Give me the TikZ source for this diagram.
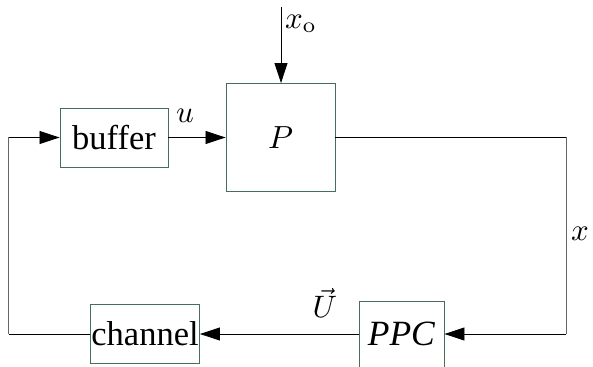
\documentclass[tikz,border=0pt]{standalone}
\usepackage{graphicx}
\usepackage[no-math]{fontspec}
\setmainfont{Liberation Serif}
\usetikzlibrary{arrows.meta}
\definecolor{boxgreen}{RGB}{70,110,90}
\newcommand{\bigtxt}[1]{\scalebox{3.45}{#1}}
\newcommand{\mathtxt}[1]{\scalebox{3.2}{#1}}
\newcommand{\ppctxt}[1]{\scalebox{3.55}{#1}}
\newcommand{\lbltxt}[1]{\scalebox{3.1}{#1}}
\tikzset{
  blk/.style={draw=boxgreen, line width=0.9pt, minimum width=#1, inner sep=0pt},
  conn/.style={line width=0.8pt, draw=black},
  vline/.style={line width=0.8pt, draw=black!60},
  tip/.style={-{Triangle[length=20pt,width=13pt]}},
  lbl/.style={inner sep=0pt}
}
\begin{document}
\begin{tikzpicture}[x=1pt,y=-1pt]
\useasboundingbox (0,0) rectangle (593,366);
\node[blk=108pt, minimum height=59pt] (buf) at (114,137.5) {\bigtxt{buffer}};
\node[blk=109pt, minimum height=108pt] (P) at (280.5,137.5) {\mathtxt{$P$}};
\node[blk=109pt, minimum height=59pt] (ch) at (145,334) {\bigtxt{channel}};
\node[blk=85pt, minimum height=66pt] (ppc) at (401.5,334) {\ppctxt{\textit{PPC}}};
\coordinate (top) at (281,7);
\coordinate (r1) at (566.4,137.5);
\coordinate (r2) at (566.4,334);
\coordinate (l1) at (8.7,334);
\coordinate (l2) at (8.7,137.5);
\draw[conn,tip] (top) -- (P.north -| top);
\draw[conn,tip] (buf.east) -- (P.west);
\draw[conn] (P.east) -- (r1);
\draw[vline] (r1) -- (r2);
\draw[conn,tip] (r2) -- (ppc.east);
\draw[conn,tip] (ppc.west) -- (ch.east);
\draw[conn] (ch.west) -- (l1);
\draw[vline] (l1) -- (l2);
\draw[conn,tip] (l2) -- (buf.west);
\node[lbl] (lu) at (185,116) {\lbltxt{$u$}};
\node[lbl] (lxo) at (301,24) {\lbltxt{$x_{\mathrm{o}}$}};
\node[lbl] (lx) at (580,234) {\lbltxt{$x$}};
\node[lbl] (lU) at (325,303) {\lbltxt{$\vec{U}$}};
\end{tikzpicture}
\end{document}
